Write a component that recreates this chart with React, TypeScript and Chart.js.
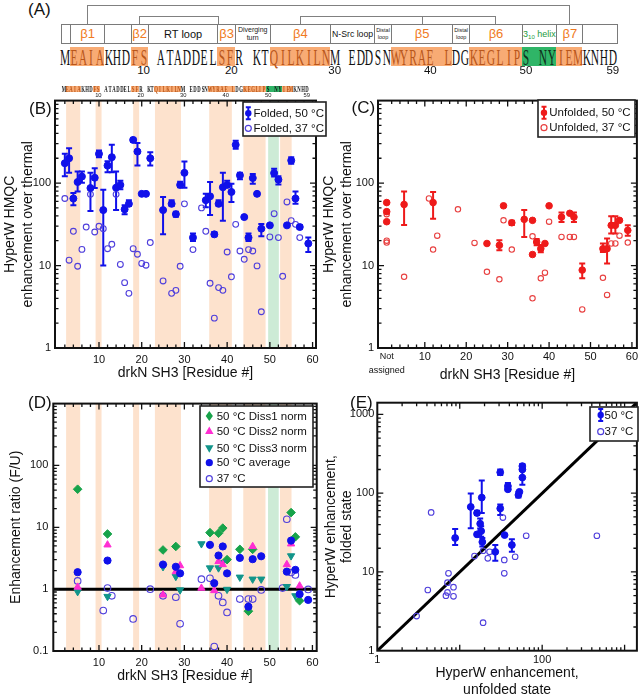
import React, { useEffect, useRef } from "react";
import { Chart, registerables } from "chart.js";

Chart.register(...registerables);
Chart.defaults.font.family = '"Liberation Sans", Arial, Helvetica, sans-serif';
Chart.defaults.color = "#111";

// ---------------- Panel A: sequence / topology ----------------
const SEQUENCE = "MEAIAKHDFS ATADDELSFR KTQILKILNM EDDSNWYRAE LDGKEGLIPS NYIEMKNHD";
const strandStartChar = [1, 8, 18, 24, 38, 47, 57];
const strandEndChar = [5, 10, 20, 31, 45, 53, 60];
const helixStartChar = 53;
const helixEndChar = 57;
const cellEdges = [0, 1, 5, 8, 10, 18, 20, 24, 31, 36, 38, 45, 47, 53, 57, 60, 64];
const cellLabels = ["", "β1", "", "β2", "RT loop", "β3", "Diverging|turn", "β4", "N-Src loop", "Distal|loop", "β5", "Distal|loop", "β6", "HELIX", "β7", ""];
const seqNumbers = ["10", "20", "30", "40", "50", "59"];
const seqNumberChar = [9, 19.1, 31, 42, 53, 63];
const miniNumberChar = [9, 20, 31, 42, 53, 63];

// ---------------- residue shading (B, D) ----------------
const bandFrom = [2.3, 9.2, 18.0, 23.1, 35.8, 43.8, 49.6, 52.4];
const bandTo = [5.6, 10.6, 19.4, 29.2, 41.1, 49.0, 52.1, 55.1];
const bandKind = ["s", "s", "s", "s", "s", "s", "h", "s"];

// ---------------- Panel B: folded ----------------
const foldedRes50 = [2, 3, 4, 5, 6, 8, 9, 10, 11, 12, 13, 14, 15, 16, 17, 18, 19, 20, 21, 22, 25, 27, 28, 29, 30, 32, 35, 36, 37, 38, 39, 40, 41, 42, 43, 44, 45, 46, 47, 48, 50, 51, 52, 54, 55, 56, 57, 59];
const foldedVal50 = [174, 200, 65, 103, 120, 87, 116, 226, 47, 163, 206, 88, 95, 48, 56, 334, 241, 74, 74, 200, 47, 56, 42, 95, 133, 21.8, 62, 69, 23.9, 56, 89, 95, 78, 291, 124, 38.7, 21.8, 115, 74, 28, 30.7, 132, 110, 30.7, 188, 65, 29.3, 18.5];
const foldedLo50 = [121, 133, 54, 79, 101, 46, 87, 206, 10, 135, 135, 47, 84, 42, 53, 318, 163, null, null, 163, 24, 53, 39, 89, 88, 19.9, 51, 41, 22.6, 53, 35, 90, 59, 260, 111, null, 19.9, 98, null, 22.6, null, 120, 96, null, 171, 56, 28, 14.6];
const foldedHi50 = [226, 264, 76, 138, 138, 133, 151, 248, 83, 184, 291, 138, 107, 54, 62, 349, 307, null, null, 236, 68, 62, 45, 104, 182, 24.4, 74, 103, 25.5, 62, 133, 107, 98, 327, 133, null, 24.4, 129, null, 32, null, 149, 121, null, 206, 79, 31, 21.8];
const foldedRes37 = [2, 3, 4, 5, 6, 7, 8, 9, 10, 11, 12, 13, 14, 15, 16, 17, 18, 19, 20, 21, 22, 25, 27, 28, 29, 30, 32, 34, 35, 36, 37, 38, 39, 40, 41, 42, 43, 44, 45, 46, 47, 48, 50, 51, 52, 53, 54, 55, 56, 57];
const foldedVal37 = [65, 11.6, 26, 9.8, 15.7, 29.3, 73, 25.5, 29.9, 28, 16, 18.1, 73, 10.3, 6.2, 4.6, 16, 13.7, 10.6, 10.1, 19, 6.5, 4.6, 5.0, 9.8, 56, 15.6, 50, 26, 6.1, 2.3, 5.4, 5.0, 14.6, 7.3, 31.6, 15, 11.9, 15.6, 15, 9.9, 2.75, 22.2, 42.5, 21.8, 7.4, 59, 35, 31.6, 21.8];

// ---------------- Panel C: unfolded ----------------
const NA_X = 0.8; // "Not assigned" position
const unfoldedPos50 = [NA_X, NA_X, NA_X, 5, 12, 25, 28, 29, 31, 34, 36, 36, 37, 38, 39, 40, 43, 45, 46, 48, 53, 54, 55, 56, 57, 59];
const unfoldedVal50 = [58, 45, 34, 55, 58, 18.5, 17.6, 53, 33, 36.3, 35.3, 13.6, 19.3, 16, 18.5, 53, 38.7, 43, 38.7, 8.8, 16, 16, 30.7, 30.7, 35.3, 26.7];
const unfoldedLo50 = [null, null, null, 31, 37, null, 15.3, null, 31, 22.2, null, null, 17.6, 14.5, null, null, 33.7, null, 33.7, 7.0, 14.6, 10.6, 24.4, 24.4, null, 23];
const unfoldedHi50 = [null, null, null, 79, 78, null, 20.2, null, 35, 47, null, null, 21, 17.8, null, null, 44, null, 44, 10.6, 18.5, 21.2, 39.5, 39.5, null, 30.7];
const unfoldedPos37 = [NA_X, NA_X, NA_X, 5, 11, 12, 13, 18, 22, 25, 28, 29, 31, 36, 36, 38, 39, 40, 43, 45, 46, 48, 53, 54, 55, 56, 57, 59];
const unfoldedVal37 = [42, 20, 19, 7.3, 65, 15.6, 23, 48, 18.8, 8.4, 6.8, 35.3, 15.6, 22.6, 4.0, 7.0, 8.2, 34, 22.2, 22.2, 22.2, 2.94, 7.1, 4.4, 18.5, 18.5, 23, 19];

// ---------------- Panel D: ratio F/U ----------------
const diss1Res = [5, 12, 25, 28, 36, 38, 39, 40, 43, 45, 46, 55, 56, 57];
const diss1Val = [41.3, 7.8, 4.3, 4.9, 8.2, 8.0, 9.7, 3.0, 4.4, 0.44, 4.4, 17.3, 7.0, 0.65];
const diss2Res = [5, 12, 25, 28, 29, 34, 37, 38, 39, 46, 54, 55, 57];
const diss2Val = [1.08, 5.2, 0.81, 1.92, 2.4, 1.04, 0.95, 2.8, 2.5, 4.9, 2.5, 5.4, 1.13];
const diss3Res = [5, 12, 25, 28, 29, 34, 36, 38, 39, 40, 43, 46, 48, 54, 55, 56];
const diss3Val = [0.91, 0.76, 2.3, 1.6, 0.97, 5.4, 2.2, 2.2, 2.7, 0.99, 1.56, 1.45, 1.45, 1.1, 3.45, 0.78];
const avgRes = [5, 12, 25, 28, 29, 36, 37, 38, 39, 40, 43, 45, 46, 48, 54, 55, 56, 57, 59];
const avgVal = [1.88, 2.9, 2.5, 2.3, 1.8, 5.2, 1.25, 3.5, 4.9, 1.8, 3.2, 0.52, 3.05, 3.4, 1.92, 6.1, 2.05, 0.83, 0.67];
const ratio37Res = [5, 11, 12, 13, 18, 22, 25, 28, 29, 34, 36, 37, 38, 39, 40, 43, 45, 46, 48, 53, 54, 55, 56, 59];
const ratio37Val = [1.36, 0.45, 1.04, 0.78, 0.33, 1.0, 0.78, 0.74, 0.275, 1.45, 1.5, 0.118, 0.78, 0.61, 0.42, 0.69, 0.69, 0.69, 0.97, 1.04, 13.5, 1.86, 1.7, 0.99];
const unityLineX = [-1, 62];
const unityLineY = [1, 1];

// ---------------- Panel E: folded vs unfolded ----------------
const eUnf50 = [8.8, 13.6, 16.2, 16.2, 17.7, 18.5, 18.2, 18.8, 27, 31, 31, 35, 38.4, 38.4, 42.9, 51.5, 53, 57.5, 57.5, 57.5];
const eFold50 = [27, 67, 56, 30, 41, 88, 33, 24, 18, 64, 184, 29.4, 123, 112, 22, 95, 104, 158, 221, 200];
const eLo50 = [22, 36, 53, null, 35.6, 56, 28, 21, 13.9, 53, 170, null, 108, null, 18, 88, null, 128, 205, null];
const eHi50 = [35, 99, 60, null, 47.8, 145, 38, 27, 22, 72, 200, null, 135, null, 26, 104, null, 195, 235, null];
const eUnf37 = [4.5, 33.4, 64, 461, 3.0, 4.1, 6.8, 7.1, 7.3, 7.1, 8.4, 8.4, 15.1, 19.2, 21.9, 23, 19.2, 34.7, 34.7, 47];
const eFold37 = [57, 49, 28.8, 28.8, 2.75, 5.9, 5.0, 5.5, 9.6, 7.3, 6.4, 4.9, 15.9, 2.27, 14.9, 18, 18.6, 14.2, 9.6, 15.6];
const diagonalX = [1, 1410];
const diagonalY = [1, 1410];

// ---------------- styling ----------------
const BLUE = "#1010ea";
const VIOLET = "#4f3fdc";
const RED = "#ee1a1a";
const RED_OPEN = "#e84040";
const GREEN = "#17a34a";
const MAGENTA = "#ff2ed2";
const TEAL = "#12958a";
const BAND_S = "#fde2cd";
const BAND_H = "#cdebd6";
const ORANGE_TXT = "#f07a22";
const HL_ORANGE = "#f8ab74";
const HL_GREEN = "#2fb567";

type Pt = { x: number; y: number };
const zip = (xs: number[], ys: number[]): Pt[] => xs.map((x, i) => ({ x, y: ys[i] }));

function logMinor(e0: number, e1: number) {
  const out: number[] = [];
  for (let e = e0; e < e1; e++) for (let k = 2; k <= 9; k++) out.push(k * Math.pow(10, e));
  return out;
}
function logMajor(e0: number, e1: number) {
  const out: number[] = [];
  for (let e = e0; e <= e1; e++) out.push(Math.pow(10, e));
  return out;
}
const resMajor = [10, 20, 30, 40, 50, 60];
const resMinor: number[] = [];
for (let v = 2; v < 61; v += 2) if (v % 10 !== 0) resMinor.push(v);

const residueBands = () =>
  bandFrom.map((f, i) => ({ from: f, to: bandTo[i], color: bandKind[i] === "h" ? BAND_H : BAND_S }));

function drawSymbol(ctx: CanvasRenderingContext2D, kind: string, color: string, x: number, y: number) {
  ctx.save();
  ctx.fillStyle = color;
  ctx.strokeStyle = color;
  ctx.lineWidth = 1.2;
  ctx.beginPath();
  if (kind === "err") {
    ctx.lineWidth = 2;
    ctx.moveTo(x, y - 6); ctx.lineTo(x, y + 6);
    ctx.moveTo(x - 2.5, y - 6); ctx.lineTo(x + 2.5, y - 6);
    ctx.moveTo(x - 2.5, y + 6); ctx.lineTo(x + 2.5, y + 6);
    ctx.stroke();
    ctx.beginPath(); ctx.arc(x, y, 3.2, 0, Math.PI * 2); ctx.fill();
  } else if (kind === "dot") {
    ctx.arc(x, y, 3.6, 0, Math.PI * 2); ctx.fill();
  } else if (kind === "open") {
    ctx.arc(x, y, 3, 0, Math.PI * 2); ctx.stroke();
  } else if (kind === "diamond") {
    ctx.moveTo(x, y - 5); ctx.lineTo(x + 3.6, y); ctx.lineTo(x, y + 5); ctx.lineTo(x - 3.6, y); ctx.closePath(); ctx.fill();
  } else if (kind === "tri") {
    ctx.moveTo(x, y - 4.5); ctx.lineTo(x + 4.2, y + 3); ctx.lineTo(x - 4.2, y + 3); ctx.closePath(); ctx.fill();
  } else if (kind === "tridown") {
    ctx.moveTo(x, y + 4.5); ctx.lineTo(x + 4.2, y - 3); ctx.lineTo(x - 4.2, y - 3); ctx.closePath(); ctx.fill();
  }
  ctx.restore();
}

const decor = {
  id: "decor",
  beforeDatasetsDraw(chart: any, _a: any, o: any) {
    const { ctx, chartArea: a } = chart;
    const xs = chart.scales.x, ys = chart.scales.y;
    if (o.bands) {
      ctx.save();
      ctx.beginPath(); ctx.rect(a.left, a.top, a.right - a.left, a.bottom - a.top); ctx.clip();
      o.bands.forEach((b: any) => {
        const x0 = xs.getPixelForValue(b.from), x1 = xs.getPixelForValue(b.to);
        ctx.fillStyle = b.color;
        ctx.fillRect(x0, a.top, x1 - x0, a.bottom - a.top);
      });
      ctx.restore();
    }
    chart.data.datasets.forEach((ds: any) => {
      const eb = ds.errorBars;
      if (!eb) return;
      ctx.save();
      ctx.strokeStyle = eb.color; ctx.lineWidth = eb.width || 2;
      ds.data.forEach((p: any, j: number) => {
        const lo = eb.lo[j], hi = eb.hi[j];
        if (lo == null || hi == null) return;
        const px = xs.getPixelForValue(p.x), pl = ys.getPixelForValue(lo), ph = ys.getPixelForValue(hi);
        const c = eb.cap || 3;
        ctx.beginPath();
        ctx.moveTo(px, pl); ctx.lineTo(px, ph);
        ctx.moveTo(px - c, pl); ctx.lineTo(px + c, pl);
        ctx.moveTo(px - c, ph); ctx.lineTo(px + c, ph);
        ctx.stroke();
      });
      ctx.restore();
    });
  },
  afterDatasetsDraw(chart: any, _a: any, o: any) {
    const { ctx, chartArea: a } = chart;
    const xs = chart.scales.x, ys = chart.scales.y;
    const t = o.ticks || {};
    ctx.save();
    ctx.strokeStyle = "#111"; ctx.lineWidth = 1.3;
    const xt = (vals: number[], len: number) => vals.forEach((v) => {
      const px = xs.getPixelForValue(v);
      if (px < a.left + 1 || px > a.right - 1) return;
      ctx.beginPath();
      ctx.moveTo(px, a.bottom); ctx.lineTo(px, a.bottom - len);
      ctx.moveTo(px, a.top); ctx.lineTo(px, a.top + len);
      ctx.stroke();
    });
    const yt = (vals: number[], len: number) => vals.forEach((v) => {
      const py = ys.getPixelForValue(v);
      if (py < a.top + 1 || py > a.bottom - 1) return;
      ctx.beginPath();
      ctx.moveTo(a.left, py); ctx.lineTo(a.left + len, py);
      ctx.moveTo(a.right, py); ctx.lineTo(a.right - len, py);
      ctx.stroke();
    });
    xt(t.xMajor || [], 6); xt(t.xMinor || [], 3.5);
    yt(t.yMajor || [], 6); yt(t.yMinor || [], 3.5);
    ctx.lineWidth = 2;
    ctx.strokeRect(a.left, a.top, a.right - a.left, a.bottom - a.top);
    ctx.restore();
  },
  afterDraw(chart: any, _a: any, o: any) {
    const L = o.legend;
    if (!L) return;
    const ctx = chart.ctx as CanvasRenderingContext2D;
    ctx.save();
    ctx.fillStyle = "#fff";
    ctx.fillRect(L.x0, L.y0, L.x1 - L.x0, L.y1 - L.y0);
    ctx.strokeStyle = "#222"; ctx.lineWidth = 1.6;
    ctx.strokeRect(L.x0, L.y0, L.x1 - L.x0, L.y1 - L.y0);
    ctx.font = `${L.size}px "Liberation Sans", Arial, sans-serif`;
    ctx.textBaseline = "middle";
    L.items.forEach((it: any) => {
      drawSymbol(ctx, it.kind, it.color, L.sx, it.y);
      ctx.fillStyle = "#111";
      ctx.fillText(it.label, L.tx, it.y + 0.5);
    });
    ctx.restore();
  },
};

const baseOptions = (padding: any, decorOpts: any, scales: any) => ({
  responsive: false,
  animation: false,
  devicePixelRatio: 1,
  events: [],
  layout: { padding },
  plugins: { legend: { display: false }, tooltip: { enabled: false }, decor: decorOpts },
  scales,
});

const tickFont = { size: 11 };
const noGrid = { display: false, drawTicks: false, tickLength: 0 };

function yLogAxis(min: number, max: number, labels: number[], width: number, title: any) {
  return {
    type: "logarithmic",
    min, max,
    afterFit: (s: any) => { s.width = width; },
    afterBuildTicks: (s: any) => { s.ticks = labels.map((v) => ({ value: v })); },
    ticks: { font: tickFont, padding: title.tickPad, callback: (v: any) => String(v), autoSkip: false, color: "#111" },
    grid: noGrid,
    border: { display: false },
    title: { display: true, text: title.text, font: { size: 14, lineHeight: title.lh }, padding: { top: title.pad, bottom: 0 }, color: "#111" },
  };
}

function buildB() {
  return {
    type: "scatter",
    data: {
      datasets: [
        { label: "Folded, 50 °C", data: zip(foldedRes50, foldedVal50), pointStyle: "circle", pointRadius: 3.5, pointBackgroundColor: BLUE, pointBorderColor: BLUE, pointBorderWidth: 1, errorBars: { lo: foldedLo50, hi: foldedHi50, color: BLUE, cap: 3, width: 2 } },
        { label: "Folded, 37 °C", data: zip(foldedRes37, foldedVal37), pointStyle: "circle", pointRadius: 2.9, pointBackgroundColor: "rgba(0,0,0,0)", pointBorderColor: VIOLET, pointBorderWidth: 1.1 },
      ],
    },
    options: baseOptions(
      { left: 0, top: 10, right: 14, bottom: 0 },
      {
        bands: residueBands(),
        ticks: { xMajor: resMajor, xMinor: resMinor, yMajor: logMajor(0, 3), yMinor: logMinor(0, 3) },
        legend: {
          x0: 243, y0: 12, x1: 326, y1: 46, size: 11.5, sx: 248.3, tx: 253.5,
          items: [
            { label: "Folded, 50 °C", kind: "err", color: BLUE, y: 23.3 },
            { label: "Folded, 37 °C", kind: "open", color: VIOLET, y: 38.3 },
          ],
        },
      },
      {
        x: {
          type: "linear", min: -0.3, max: 60.8,
          afterFit: (s: any) => { s.height = 34; },
          afterBuildTicks: (s: any) => { s.ticks = resMajor.map((v) => ({ value: v })); },
          ticks: { font: tickFont, padding: 5, maxRotation: 0, autoSkip: false, color: "#111" },
          grid: noGrid, border: { display: false },
          title: { display: true, text: "drkN SH3 [Residue #]", font: { size: 14, lineHeight: 1.2 }, padding: { top: 0, bottom: 0 }, color: "#111" },
        },
        y: yLogAxis(1, 1000, [1, 10, 100], 55, { text: ["HyperW HMQC", "enhancement over thermal"], lh: 18 / 14, pad: 1, tickPad: 4 }),
      }
    ),
    plugins: [decor],
  };
}

function buildC() {
  return {
    type: "scatter",
    data: {
      datasets: [
        { label: "Unfolded, 50 °C", data: zip(unfoldedPos50, unfoldedVal50), pointStyle: "circle", pointRadius: 3.3, pointBackgroundColor: RED, pointBorderColor: RED, pointBorderWidth: 1, errorBars: { lo: unfoldedLo50, hi: unfoldedHi50, color: RED, cap: 3, width: 2 } },
        { label: "Unfolded, 37 °C", data: zip(unfoldedPos37, unfoldedVal37), pointStyle: "circle", pointRadius: 2.7, pointBackgroundColor: "rgba(0,0,0,0)", pointBorderColor: RED_OPEN, pointBorderWidth: 1.1 },
      ],
    },
    options: baseOptions(
      { left: 0, top: 10, right: 4, bottom: 0 },
      {
        ticks: { xMajor: resMajor, xMinor: resMinor, yMajor: logMajor(0, 3), yMinor: logMinor(0, 3) },
        legend: {
          x0: 220, y0: 10, x1: 317, y1: 47, size: 11.5, sx: 226, tx: 231.3,
          items: [
            { label: "Unfolded, 50 °C", kind: "err", color: RED, y: 22.7 },
            { label: "Unfolded, 37 °C", kind: "open", color: RED_OPEN, y: 37.7 },
          ],
        },
      },
      {
        x: {
          type: "linear", min: -1.3, max: 61.2,
          afterFit: (s: any) => { s.height = 36; },
          afterBuildTicks: (s: any) => { s.ticks = [NA_X, ...resMajor].map((v) => ({ value: v })); },
          ticks: {
            padding: 2, maxRotation: 0, autoSkip: false, color: "#111",
            font: (c: any) => (c.tick && c.tick.value === NA_X ? { size: 9, lineHeight: 1.5 } : { size: 11 }),
            callback: (v: any) => (v === NA_X ? ["Not", "assigned"] : String(v)),
          },
          grid: noGrid, border: { display: false },
          title: { display: true, text: "drkN SH3 [Residue #]", font: { size: 14, lineHeight: 1.2 }, padding: { top: 0, bottom: 0 }, color: "#111" },
        },
        y: yLogAxis(1, 1000, [1, 10, 100], 60, { text: ["HyperW HMQC", "enhancement over thermal"], lh: 18.8 / 14, pad: 1.3, tickPad: 4 }),
      }
    ),
    plugins: [decor],
  };
}

function buildD() {
  return {
    type: "scatter",
    data: {
      datasets: [
        { label: "50 °C average", data: zip(avgRes, avgVal), pointStyle: "circle", pointRadius: 3.6, pointBackgroundColor: BLUE, pointBorderColor: BLUE, pointBorderWidth: 1 },
        { label: "50 °C Diss2 norm", data: zip(diss2Res, diss2Val), pointStyle: "triangle", pointRadius: 4.2, pointBackgroundColor: MAGENTA, pointBorderColor: MAGENTA, pointBorderWidth: 1 },
        { label: "50 °C Diss3 norm", data: zip(diss3Res, diss3Val), pointStyle: "triangle", pointRotation: 180, pointRadius: 4.2, pointBackgroundColor: TEAL, pointBorderColor: TEAL, pointBorderWidth: 1 },
        { label: "50 °C Diss1 norm", data: zip(diss1Res, diss1Val), pointStyle: "rectRot", pointRadius: 4.3, pointBackgroundColor: GREEN, pointBorderColor: GREEN, pointBorderWidth: 1 },
        { label: "37 °C", data: zip(ratio37Res, ratio37Val), pointStyle: "circle", pointRadius: 3.3, pointBackgroundColor: "rgba(0,0,0,0)", pointBorderColor: VIOLET, pointBorderWidth: 1.1 },
        { label: "unity", data: zip(unityLineX, unityLineY), showLine: true, pointRadius: 0, borderColor: "#000", borderWidth: 3 },
      ],
    },
    options: baseOptions(
      { left: 0, top: 13.6, right: 13.3, bottom: 0 },
      {
        bands: residueBands(),
        ticks: { xMajor: resMajor, xMinor: resMinor, yMajor: logMajor(-1, 3), yMinor: logMinor(-1, 3) },
        legend: {
          x0: 200, y0: 16, x1: 313, y1: 97, size: 11.5, sx: 209.3, tx: 216.7,
          items: [
            { label: "50 °C Diss1 norm", kind: "diamond", color: GREEN, y: 26 },
            { label: "50 °C Diss2 norm", kind: "tri", color: MAGENTA, y: 41 },
            { label: "50 °C Diss3 norm", kind: "tridown", color: TEAL, y: 58.3 },
            { label: "50 °C average", kind: "dot", color: BLUE, y: 72.7 },
            { label: "37 °C", kind: "open", color: VIOLET, y: 88.7 },
          ],
        },
      },
      {
        x: {
          type: "linear", min: -0.7, max: 61.0,
          afterFit: (s: any) => { s.height = 34; },
          afterBuildTicks: (s: any) => { s.ticks = resMajor.map((v) => ({ value: v })); },
          ticks: { font: tickFont, padding: 5, maxRotation: 0, autoSkip: false, color: "#111" },
          grid: noGrid, border: { display: false },
          title: { display: true, text: "drkN SH3 [Residue #]", font: { size: 14, lineHeight: 1.2 }, padding: { top: 0, bottom: 0 }, color: "#111" },
        },
        y: yLogAxis(0.1, 1000, [0.1, 1, 10, 100], 53.3, { text: "Enhancement ratio (F/U)", lh: 1.2, pad: 7.8, tickPad: 5 }),
      }
    ),
    plugins: [decor],
  };
}

function buildE() {
  return {
    type: "scatter",
    data: {
      datasets: [
        { label: "50 °C", data: zip(eUnf50, eFold50), pointStyle: "circle", pointRadius: 3.4, pointBackgroundColor: BLUE, pointBorderColor: BLUE, pointBorderWidth: 1, errorBars: { lo: eLo50, hi: eHi50, color: BLUE, cap: 3, width: 2 } },
        { label: "37 °C", data: zip(eUnf37, eFold37), pointStyle: "circle", pointRadius: 2.8, pointBackgroundColor: "rgba(0,0,0,0)", pointBorderColor: VIOLET, pointBorderWidth: 1.1 },
        { label: "diagonal", data: zip(diagonalX, diagonalY), showLine: true, pointRadius: 0, borderColor: "#000", borderWidth: 3 },
      ],
    },
    options: baseOptions(
      { left: 0, top: 12.7, right: 2, bottom: 0 },
      {
        ticks: { xMajor: logMajor(0, 3), xMinor: logMinor(0, 3), yMajor: logMajor(0, 3), yMinor: logMinor(0, 3) },
        legend: {
          x0: 272, y0: 17, x1: 320, y1: 51, size: 11.5, sx: 282.7, tx: 286.5,
          items: [
            { label: "50 °C", kind: "err", color: BLUE, y: 25 },
            { label: "37 °C", kind: "open", color: VIOLET, y: 41.7 },
          ],
        },
      },
      {
        x: {
          type: "logarithmic", min: 1, max: 1410,
          afterFit: (s: any) => { s.height = 48.3; },
          afterBuildTicks: (s: any) => { s.ticks = [1, 100].map((v) => ({ value: v })); },
          ticks: { font: tickFont, padding: 3, maxRotation: 0, autoSkip: false, color: "#111", callback: (v: any) => String(v) },
          grid: noGrid, border: { display: false },
          title: { display: true, text: ["HyperW enhancement,", "unfolded state"], font: { size: 14, lineHeight: 16.7 / 14 }, padding: { top: 0, bottom: 1 }, color: "#111" },
        },
        y: yLogAxis(1, 1410, [1, 10, 100, 1000], 59.3, { text: ["HyperW enhancement,", "folded state"], lh: 16.5 / 14, pad: 4.7, tickPad: 3 }),
      }
    ),
    plugins: [decor],
  };
}

function ChartCanvas(props: { left: number; top: number; width: number; height: number; build: () => any }) {
  const ref = useRef<HTMLCanvasElement>(null);
  useEffect(() => {
    const chart = new Chart(ref.current as HTMLCanvasElement, props.build());
    return () => chart.destroy();
  }, []);
  return (
    <canvas
      ref={ref}
      width={props.width}
      height={props.height}
      style={{ position: "absolute", left: props.left, top: props.top, width: props.width, height: props.height }}
    />
  );
}

// ---------------- Panel A (HTML) ----------------
const SX0 = 61;
const CW = 8.69;
const MX0 = 61.7;
const MCW = 3.86;

function charKind(i: number) {
  if (i >= helixStartChar && i < helixEndChar) return "h";
  for (let k = 0; k < strandStartChar.length; k++) if (i >= strandStartChar[k] && i < strandEndChar[k]) return "s";
  return "";
}

function CellLabel({ lab }: { lab: string }) {
  if (lab.startsWith("β")) return <span style={{ color: ORANGE_TXT, fontSize: 13 }}>{lab}</span>;
  if (lab === "HELIX")
    return (
      <span style={{ color: "#1e9c3c", fontSize: 9, whiteSpace: "nowrap" }}>
        3<span style={{ fontSize: 6, position: "relative", top: 2 }}>10</span> helix
      </span>
    );
  if (lab.includes("|")) {
    const [a, b] = lab.split("|");
    const fs = a === "Distal" ? 5.5 : 7;
    return (
      <span style={{ fontSize: fs, lineHeight: 1.15, textAlign: "center", color: "#222" }}>
        {a}
        <br />
        {b}
      </span>
    );
  }
  if (lab === "N-Src loop") return <span style={{ fontSize: 8.7, whiteSpace: "nowrap", color: "#111" }}>{lab}</span>;
  if (lab) return <span style={{ fontSize: 11, whiteSpace: "nowrap", color: "#111" }}>{lab}</span>;
  return null;
}

const line = (s: any) => <div style={{ position: "absolute", boxSizing: "border-box", ...s }} />;

function PanelA() {
  const cx = (c: number) => SX0 + c * CW;
  const ccenter = (a: number, b: number) => SX0 + ((a + b) / 2) * CW;
  return (
    <div>
      <div style={{ position: "absolute", left: 28, top: 1, fontSize: 17, lineHeight: "17px" }}>(A)</div>
      {line({ left: ccenter(1, 5), top: 4.5, width: ccenter(57, 60) - ccenter(1, 5) + 1, height: 20, borderTop: "1px solid #808080", borderLeft: "1px solid #808080", borderRight: "1px solid #808080" })}
      {line({ left: ccenter(8, 10), top: 15.5, width: cx(18.1) - ccenter(8, 10) + 1, height: 9, borderTop: "1px solid #808080", borderLeft: "1px solid #808080", borderRight: "1px solid #808080" })}
      {line({ left: ccenter(24, 31), top: 15.5, width: ccenter(47, 53) - ccenter(24, 31) + 1, height: 9, borderTop: "1px solid #808080", borderLeft: "1px solid #808080", borderRight: "1px solid #808080" })}
      {line({ left: ccenter(38, 45), top: 15.5, width: 1, height: 9, borderLeft: "1px solid #808080" })}
      {cellLabels.map((lab, i) => {
        const x0 = cx(cellEdges[i]);
        const x1 = cx(cellEdges[i + 1]);
        return (
          <div
            key={"c" + i}
            style={{
              position: "absolute", left: x0, top: 24, width: x1 - x0 + 1, height: 19.5, boxSizing: "border-box",
              border: "1px solid #7a7a7a", background: "#fff", display: "flex", alignItems: "center", justifyContent: "center",
              overflow: "visible",
            }}
          >
            <CellLabel lab={lab} />
          </div>
        );
      })}
      {strandStartChar.map((s, k) => (
        <div key={"h" + k} style={{ position: "absolute", left: cx(s), top: 46.7, width: (strandEndChar[k] - s) * CW, height: 19, background: HL_ORANGE }} />
      ))}
      <div style={{ position: "absolute", left: cx(helixStartChar), top: 46.7, width: (helixEndChar - helixStartChar) * CW, height: 19, background: HL_GREEN }} />
      <div>
        {SEQUENCE.split("").map((ch, i) => {
          const k = charKind(i);
          return (
            <span
              key={"s" + i}
              style={{
                position: "absolute", left: SX0 + (i + 0.5) * CW, top: 46, transform: "translateX(-50%) scaleX(0.5)",
                fontFamily: '"Liberation Serif", "Times New Roman", serif', fontSize: 23, lineHeight: "23px", whiteSpace: "pre",
                color: k === "s" ? "#b9561a" : k === "h" ? "#10301c" : "#111",
              }}
            >
              {ch}
            </span>
          );
        })}
      </div>
      {seqNumbers.map((n, k) => (
        <span key={"n" + k} style={{ position: "absolute", left: SX0 + (seqNumberChar[k] + 0.5) * CW, top: 65.3, transform: "translateX(-50%)", fontSize: 11.5, lineHeight: "11.5px", color: "#111" }}>
          {n}
        </span>
      ))}
      {strandStartChar.map((s, k) => (
        <div key={"mh" + k} style={{ position: "absolute", left: MX0 + s * MCW, top: 85.5, width: (strandEndChar[k] - s) * MCW, height: 6.5, background: HL_ORANGE }} />
      ))}
      <div style={{ position: "absolute", left: MX0 + helixStartChar * MCW, top: 85.5, width: (helixEndChar - helixStartChar) * MCW, height: 6.5, background: HL_GREEN }} />
      <div>
        {SEQUENCE.split("").map((ch, i) => {
          const k = charKind(i);
          return (
            <span
              key={"m" + i}
              style={{
                position: "absolute", left: MX0 + (i + 0.5) * MCW, top: 84.6, transform: "translateX(-50%) scaleX(0.55)",
                fontFamily: '"Liberation Serif", "Times New Roman", serif', fontSize: 8.6, lineHeight: "8.6px", whiteSpace: "pre",
                color: k === "s" ? "#b9561a" : "#111", fontWeight: 700,
              }}
            >
              {ch}
            </span>
          );
        })}
      </div>
      {seqNumbers.map((n, k) => (
        <span key={"mn" + k} style={{ position: "absolute", left: MX0 + (miniNumberChar[k] + 0.5) * MCW, top: 93.4, transform: "translateX(-50%)", fontSize: 5.8, lineHeight: "5.8px", color: "#222" }}>
          {n}
        </span>
      ))}
    </div>
  );
}

const panelLabel = (t: string, left: number, top: number) => (
  <div style={{ position: "absolute", left, top, fontSize: 17, lineHeight: "17px", color: "#111" }}>{t}</div>
);

export default function App() {
  return (
    <div
      style={{
        position: "absolute", left: 0, top: 0, width: 642, height: 699, background: "#fff", overflow: "hidden",
        fontFamily: '"Liberation Sans", Arial, Helvetica, sans-serif', color: "#111",
      }}
    >
      <ChartCanvas left={0} top={90} width={330} height={292} build={buildB} />
      <ChartCanvas left={318} top={90} width={324} height={294} build={buildC} />
      <ChartCanvas left={0} top={390} width={330} height={295} build={buildD} />
      <ChartCanvas left={318} top={390} width={324} height={309} build={buildE} />
      <PanelA />
      {panelLabel("(B)", 29, 100)}
      {panelLabel("(C)", 351.5, 98.5)}
      {panelLabel("(D)", 28, 393.5)}
      {panelLabel("(E)", 350, 393.5)}
    </div>
  );
}
